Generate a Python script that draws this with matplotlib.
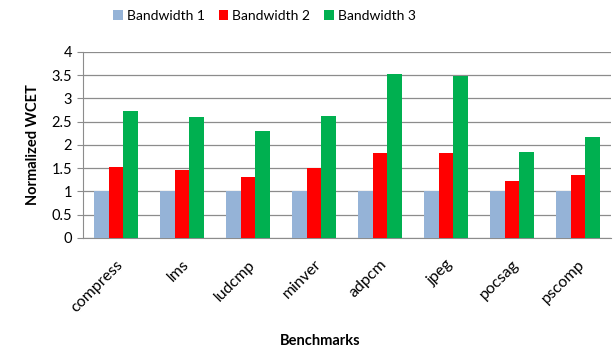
import numpy as np
import matplotlib.pyplot as plt

benchmarks = ['compress', 'lms', 'ludcmp', 'minver', 'adpcm', 'jpeg', 'pocsag', 'pscomp']
bw1 = [1.0, 1.0, 1.0, 1.0, 1.0, 1.0, 1.0, 1.0]
bw2 = [1.52, 1.46, 1.32, 1.51, 1.83, 1.83, 1.23, 1.35]
bw3 = [2.74, 2.60, 2.31, 2.63, 3.53, 3.49, 1.84, 2.17]
series_names = ['Bandwidth 1', 'Bandwidth 2', 'Bandwidth 3']
colors = ['#95B3D7', '#FF0000', '#00B050']

plt.rcParams['font.family'] = ['Lato', 'DejaVu Sans']

fig = plt.figure(figsize=(6.15, 3.56), dpi=100)
ax = fig.add_axes([0.135, 0.3315, 0.8585, 0.5225])

x = np.arange(len(benchmarks))
w = 0.22
for i, (vals, name, c) in enumerate(zip([bw1, bw2, bw3], series_names, colors)):
    ax.bar(x + (i - 1) * w, vals, w, color=c, label=name, zorder=3)

ax.set_xlim(-0.5, len(benchmarks) - 0.5)
ax.set_ylim(0, 4)
ax.set_yticks(np.arange(0, 4.01, 0.5))
ax.set_yticklabels(['0', '0.5', '1', '1.5', '2', '2.5', '3', '3.5', '4'])
ax.yaxis.grid(True, color='#8c8c8c', linewidth=0.9, zorder=0)
ax.set_xticks(x)
ax.set_xticklabels(benchmarks, rotation=45, ha='right', rotation_mode='anchor')
ax.tick_params(axis='x', length=0, pad=14, labelsize=11.5)
ax.tick_params(axis='y', length=4, color='#8c8c8c', labelsize=10.5, pad=4)

for s in ['top', 'right']:
    ax.spines[s].set_visible(False)
ax.spines['left'].set_color('#8c8c8c')
ax.spines['bottom'].set_color('#8c8c8c')

ax.set_ylabel('Normalized WCET', fontsize=10.5, fontweight='bold', labelpad=8)
fig.text(0.52, 0.03, 'Benchmarks', fontsize=10.5, fontweight='bold', ha='center')

fig.legend(loc='center', bbox_to_anchor=(0.43, 0.955), ncol=3, frameon=False,
           fontsize=10, handlelength=0.7, handleheight=0.7, handletextpad=0.3,
           columnspacing=1.0)

fig.savefig('out.png', dpi=100)
